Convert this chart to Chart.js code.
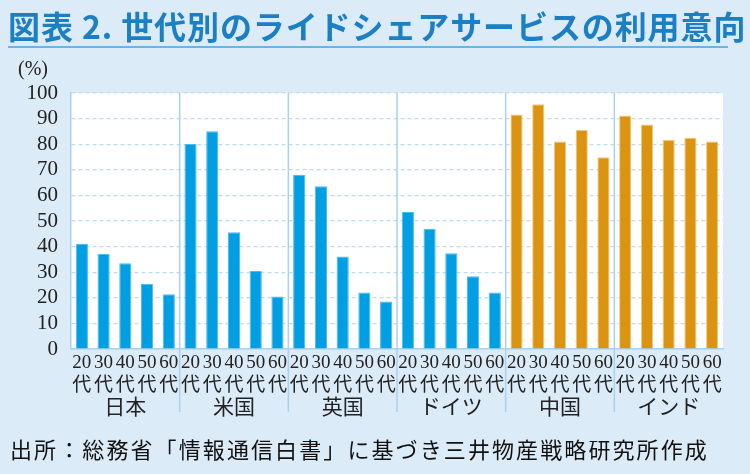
<!DOCTYPE html>
<html>
<head>
<meta charset="utf-8">
<script src="https://cdn.jsdelivr.net/npm/chart.js@4.4.1/dist/chart.umd.min.js"></script>
<style>
  html, body { margin: 0; padding: 0; }
  body { width: 750px; height: 474px; background: #dcebf8; position: relative; overflow: hidden; }
  #title {
    position: absolute; left: 8px; top: 6px; width: 720px;
    font-family: "Noto Sans CJK JP", sans-serif; font-weight: 700;
    font-size: 32px; letter-spacing: 0.9px; color: #1b7fc4; line-height: 38px; white-space: nowrap;
    border-bottom: 2px solid #6db3e3; padding-bottom: 2px;
  }
  #source {
    position: absolute; left: 10px; top: 432px;
    font-family: "Noto Sans CJK JP", sans-serif; font-size: 22px;
    letter-spacing: 2.1px; color: #111; white-space: nowrap;
  }
  #wrap { position: absolute; left: 0; top: 0; width: 750px; height: 474px; }
</style>
</head>
<body>
<div id="wrap"><canvas id="chart" width="750" height="474"></canvas></div>
<div id="title">図表 2. 世代別のライドシェアサービスの利用意向</div>
<div id="source">出所：総務省「情報通信白書」に基づき三井物産戦略研究所作成</div>
<script>
// 国ごと・世代ごとの利用意向 (%)
const countries = ["日本", "米国", "英国", "ドイツ", "中国", "インド"];
const ages = ["20", "30", "40", "50", "60"];
const japan = [41.0, 37.1, 33.5, 25.4, 21.4];
const usa = [80.1, 85.1, 45.6, 30.5, 20.5];
const uk = [68.0, 63.6, 36.1, 22.1, 18.6];
const germany = [53.5, 47.0, 37.4, 28.4, 22.1];
const china = [91.6, 95.6, 81.1, 85.5, 74.9];
const india = [91.2, 87.7, 81.6, 82.5, 81.1];
const yTicks = [0, 10, 20, 30, 40, 50, 60, 70, 80, 90, 100];

const seriesByCountry = [japan, usa, uk, germany, china, india];
const highlighted = ["中国", "インド"];

var labels = [];
var values = [];
var fills = [];
var edges = [];
countries.forEach(function (c, i) {
    ages.forEach(function (a, j) {
        labels.push([a, "代"]);
        values.push(seriesByCountry[i][j]);
        var hot = highlighted.indexOf(c) >= 0;
        fills.push(hot ? "#db9410" : "#009fe3");
        edges.push(hot ? "#f3c784" : "#4dbbee");
    });
});

const serif = "'Liberation Serif', 'DejaVu Serif', 'Noto Sans CJK JP', serif";

// 白い描画領域、国の区切り線、国名、(%)
var decorations = {
    id: "decorations",
    beforeDraw: function (chart) {
        var a = chart.chartArea, ctx = chart.ctx;
        ctx.save();
        ctx.fillStyle = "#ffffff";
        ctx.fillRect(a.left, a.top, a.right - a.left, a.bottom - a.top);
        ctx.restore();
    },
    afterDraw: function (chart) {
        var a = chart.chartArea, ctx = chart.ctx, x = chart.scales.x;
        ctx.save();
        ctx.strokeStyle = "#a9d1f1";
        ctx.lineWidth = 1.5;
        for (var g = 1; g < countries.length; g++) {
            var i = g * ages.length;
            var px = (x.getPixelForValue(i - 1) + x.getPixelForValue(i)) / 2;
            ctx.beginPath();
            ctx.moveTo(px, a.top);
            ctx.lineTo(px, 412);
            ctx.stroke();
        }
        ctx.fillStyle = "#222";
        ctx.font = "21px " + serif;
        ctx.textAlign = "center";
        ctx.textBaseline = "middle";
        countries.forEach(function (c, g) {
            var first = x.getPixelForValue(g * ages.length);
            var last = x.getPixelForValue(g * ages.length + ages.length - 1);
            ctx.fillText(c, (first + last) / 2, 408);
        });
        ctx.font = "20px " + serif;
        ctx.fillText("(%)", 33, 70);
        ctx.restore();
    }
};

new Chart(document.getElementById("chart"), {
    type: "bar",
    data: {
        labels: labels,
        datasets: [{
            data: values,
            backgroundColor: fills,
            borderColor: edges,
            borderWidth: 1,
            borderSkipped: "bottom",
            barPercentage: 0.56,
            categoryPercentage: 1.0
        }]
    },
    options: {
        responsive: false,
        animation: false,
        devicePixelRatio: 1,
        layout: { padding: { left: 0, right: 27, top: 93, bottom: 50 } },
        plugins: {
            legend: { display: false },
            tooltip: { enabled: false }
        },
        scales: {
            x: {
                grid: { display: false, drawTicks: false },
                border: { color: "#a9d1f1", width: 1.5 },
                ticks: {
                    color: "#222",
                    font: { family: serif, size: 19, lineHeight: 1.2 },
                    padding: 3,
                    maxRotation: 0,
                    autoSkip: false
                },
                afterFit: function (s) { s.height = 75; }
            },
            y: {
                min: 0,
                max: 100,
                afterBuildTicks: function (s) {
                    s.ticks = yTicks.map(function (v) { return { value: v }; });
                },
                grid: {
                    color: "#bcdcf4",
                    lineWidth: 1.2,
                    drawTicks: false
                },
                border: { display: true, color: "#a9d1f1", width: 1.5, dash: [4, 3] },
                ticks: {
                    color: "#222",
                    font: { family: serif, size: 21 },
                    padding: 13,
                    autoSkip: false
                },
                afterFit: function (s) { s.width = 71; }
            }
        }
    },
    plugins: [decorations]
});
</script>
</body>
</html>
